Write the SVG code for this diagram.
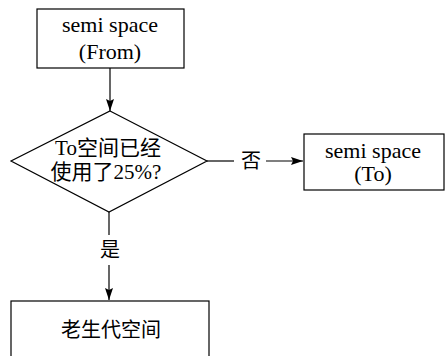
<svg xmlns="http://www.w3.org/2000/svg" width="445" height="356" viewBox="0 0 445 356">
<style>
.shape{fill:#fff;stroke:#000;stroke-width:1.2}
.edge{fill:none;stroke:#000;stroke-width:1.2}
.t{font-family:"Liberation Serif","Noto Sans CJK SC",serif;font-size:22px;fill:#000;text-anchor:middle}
.d{font-family:"Liberation Serif","Noto Sans CJK SC",serif;font-size:21px;fill:#000;text-anchor:middle}
.c{font-family:"Noto Sans CJK SC",sans-serif;font-size:20px;fill:#000;text-anchor:middle}
</style>
<defs>
<marker id="ah" viewBox="0 0 12 8" refX="12" refY="4" markerWidth="12" markerHeight="8" markerUnits="userSpaceOnUse" orient="auto">
<path d="M0,0 L12,4 L0,8 L2,4 Z" fill="#000"/>
</marker>
</defs>
<g id="connectors">
<line class="edge" x1="110" y1="68" x2="110" y2="111" marker-end="url(#ah)"/>
<line class="edge" x1="207" y1="161" x2="234" y2="161"/>
<line class="edge" x1="266" y1="161" x2="303" y2="161" marker-end="url(#ah)"/>
<text class="c" x="251" y="168" font-size="18">否</text>
<line class="edge" x1="109" y1="212" x2="109" y2="235"/>
<line class="edge" x1="109" y1="265" x2="109" y2="300" marker-end="url(#ah)"/>
<text class="c" x="110" y="257" font-size="18">是</text>
</g>
<g id="from">
<rect class="shape" x="37" y="9" width="147" height="59"/>
<text class="t" x="110" y="32">semi space</text>
<text class="t" x="110" y="59">(From)</text>
</g>
<g id="decision">
<polygon class="shape" points="110,111 207,161 109,212 11,161"/>
<text class="d" x="108" y="155">To空间已经</text>
<text class="d" x="106" y="179">使用了25%?</text>
</g>
<g id="to">
<rect class="shape" x="304" y="134" width="140" height="56"/>
<text class="t" x="373" y="158">semi space</text>
<text class="t" x="373" y="181">(To)</text>
</g>
<g id="old">
<rect class="shape" x="11" y="301" width="198" height="60"/>
<text class="c" x="111" y="337">老生代空间</text>
</g>
</svg>
